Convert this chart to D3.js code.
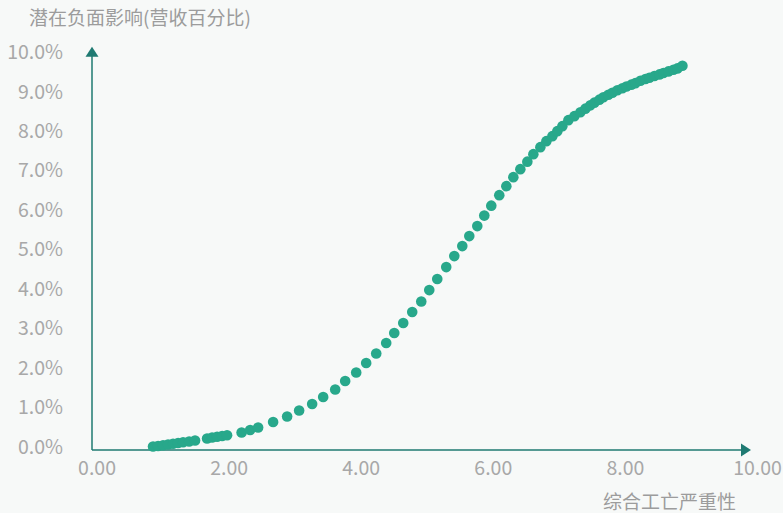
<!DOCTYPE html>
<html>
<head>
<meta charset="utf-8">
<script src="https://cdn.jsdelivr.net/npm/d3@7"></script>
<style>
  html, body { margin: 0; padding: 0; background: #f7f9f8; }
  svg { display: block; font-family: 'Noto Sans CJK SC', sans-serif; }
  .tick text { fill: #a8a8a8; font-size: 19.5px; font-family: 'Noto Sans CJK SC'; }
  .title { fill: #9c9c9c; font-size: 19px; font-family: 'Noto Sans CJK SC'; }
</style>
</head>
<body>
<svg id="chart"></svg>
<script>
// severity (x) vs potential negative impact in % of revenue (y)
const severity = [
  0.856, 0.932, 1.008, 1.083, 1.159, 1.235, 1.311, 1.402, 1.492,
  1.674, 1.750, 1.826, 1.902, 1.977,
  2.197, 2.326, 2.447, 2.674, 2.886, 3.068, 3.265, 3.432, 3.614, 3.765,
  3.932, 4.083, 4.235, 4.386, 4.508, 4.644, 4.780, 4.917, 5.038, 5.159,
  5.295, 5.417, 5.538, 5.644, 5.765, 5.871, 5.977, 6.098, 6.205, 6.311,
  6.417, 6.523, 6.614, 6.720, 6.811, 6.902, 6.977, 7.053, 7.144, 7.235, 7.326,
  7.402, 7.477, 7.538, 7.614, 7.674, 7.750, 7.811, 7.886, 7.962, 8.023,
  8.098, 8.159, 8.235, 8.311, 8.371, 8.447, 8.523, 8.583, 8.659, 8.735,
  8.795, 8.871
];
const impact = [
  0.00, 0.013, 0.030, 0.051, 0.068, 0.089, 0.106, 0.127, 0.152,
  0.203, 0.228, 0.246, 0.266, 0.286,
  0.354, 0.418, 0.481, 0.620, 0.759, 0.911, 1.076, 1.253, 1.443, 1.658,
  1.873, 2.114, 2.354, 2.620, 2.873, 3.127, 3.405, 3.671, 3.962, 4.241,
  4.544, 4.823, 5.076, 5.329, 5.582, 5.848, 6.101, 6.367, 6.595, 6.823,
  7.025, 7.215, 7.405, 7.582, 7.734, 7.861, 7.987, 8.114, 8.266, 8.367, 8.468,
  8.557, 8.641, 8.709, 8.785, 8.848, 8.911, 8.962, 9.025, 9.076, 9.119,
  9.165, 9.203, 9.266, 9.309, 9.342, 9.385, 9.425, 9.461, 9.501, 9.542,
  9.577, 9.646
];
const xTicks = [0, 2, 4, 6, 8, 10];
const yTicks = [0, 1, 2, 3, 4, 5, 6, 7, 8, 9, 10];
const yTitle = '潜在负面影响(营收百分比)';
const xTitle = '综合工亡严重性';

const width = 783, height = 513;
const axisColor = '#1f7a72';
const dotColor = '#28a88b';

const svg = d3.select('#chart').attr('width', width).attr('height', height);

const x = d3.scaleLinear().domain([0, 10]).range([96.5, 757]);
const y = d3.scaleLinear().domain([0, 10]).range([446.5, 51.7]);

// axes lines with arrow heads
const ox = x(0) - 4.5, oy = y(0) + 3.5;
const xEnd = x(10) - 6, yEnd = y(10) - 5;

svg.append('line')
  .attr('x1', ox).attr('y1', oy)
  .attr('x2', ox).attr('y2', yEnd + 8)
  .attr('stroke', axisColor).attr('stroke-width', 1.5);
svg.append('path')
  .attr('d', `M${ox},${yEnd} L${ox - 6.5},${yEnd + 10} L${ox + 6.5},${yEnd + 10} Z`)
  .attr('fill', axisColor);

svg.append('line')
  .attr('x1', ox).attr('y1', oy)
  .attr('x2', xEnd - 8).attr('y2', oy)
  .attr('stroke', axisColor).attr('stroke-width', 1.5);
svg.append('path')
  .attr('d', `M${xEnd},${oy} L${xEnd - 10},${oy - 6.5} L${xEnd - 10},${oy + 6.5} Z`)
  .attr('fill', axisColor);

// tick labels
const xAxisG = svg.append('g')
  .attr('transform', `translate(0,${y(0)})`)
  .call(d3.axisBottom(x).tickValues(xTicks).tickSize(0).tickFormat(d3.format('.2f')));
xAxisG.select('.domain').remove();
xAxisG.selectAll('.tick line').remove();
xAxisG.selectAll('.tick text').attr('y', 21.5).attr('dy', '0.35em');

const yAxisG = svg.append('g')
  .attr('transform', 'translate(63,0)')
  .call(d3.axisLeft(y).tickValues(yTicks).tickSize(0).tickPadding(0)
    .tickFormat(d => d3.format('.1f')(d) + '%'));
yAxisG.select('.domain').remove();
yAxisG.selectAll('.tick line').remove();
yAxisG.selectAll('.tick text').attr('dy', '0.35em');

// titles
svg.append('text')
  .attr('class', 'title')
  .attr('x', 29).attr('y', 18).attr('dy', '0.35em')
  .text(yTitle);

svg.append('text')
  .attr('class', 'title')
  .attr('x', 736).attr('y', 502).attr('dy', '0.35em')
  .attr('text-anchor', 'end')
  .text(xTitle);

// dots
svg.append('g')
  .selectAll('circle')
  .data(severity.map((d, i) => ({ sx: d, iy: impact[i] })))
  .join('circle')
  .attr('cx', d => x(d.sx))
  .attr('cy', d => y(d.iy))
  .attr('r', 5.3)
  .attr('fill', dotColor);
</script>
</body>
</html>
